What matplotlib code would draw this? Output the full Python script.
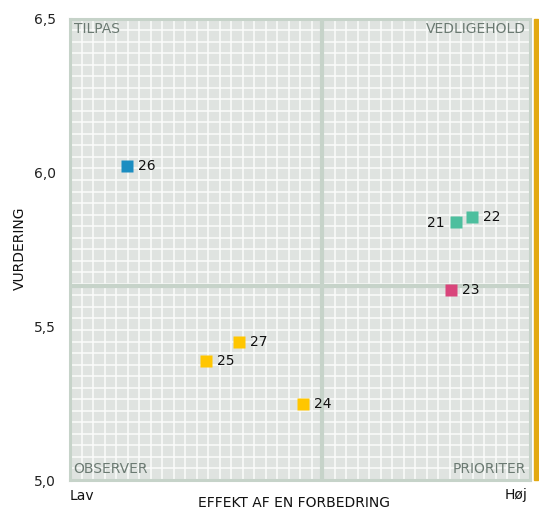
import matplotlib.pyplot as plt
import numpy as np
from matplotlib.patches import Rectangle

# data
labels = ['21', '22', '23', '24', '25', '26', '27']
effekt = [0.839, 0.873, 0.828, 0.506, 0.295, 0.124, 0.367]
vurdering = [5.839, 5.855, 5.619, 5.248, 5.388, 6.021, 5.448]
colors = ['#4dbf9e', '#4dbf9e', '#d9457b', '#ffc600', '#ffc600', '#1b8dc1', '#ffc600']
x_split = 0.548
y_split = 5.632
y_ticks = [5.0, 5.5, 6.0, 6.5]
y_tick_labels = ['5,0', '5,5', '6,0', '6,5']
quadrants = ['TILPAS', 'VEDLIGEHOLD', 'OBSERVER', 'PRIORITER']

plt.rcParams['font.family'] = ['DejaVu Sans']
fs = 10
grey = '#6b7a72'
line_col = '#c6d3c9'

fig = plt.figure(figsize=(5.39, 5.12), dpi=100)
ax = fig.add_axes([70 / 539, 32 / 512, 460 / 539, 461.5 / 512])
ax.set_xlim(0, 1)
ax.set_ylim(5.0, 6.5)
ax.set_facecolor('#dfe3e0')

# fine white grid, 40 x 40 cells
ax.set_xticks(np.linspace(0, 1, 41), minor=True)
ax.set_yticks(np.linspace(5.0, 6.5, 41), minor=True)
ax.grid(which='minor', color='#fbfcfb', linewidth=1.1)
ax.tick_params(which='both', length=0)
ax.set_xticks([])
ax.set_yticks(y_ticks)
ax.set_yticklabels(y_tick_labels, fontsize=fs, color='#222222')
ax.tick_params(axis='y', pad=10)
ax.set_axisbelow(True)

for s in ax.spines.values():
    s.set_color(line_col)
    s.set_linewidth(2.2)

# quadrant dividers
ax.axvline(x_split, color=line_col, linewidth=3, zorder=1.5)
ax.axhline(y_split, color=line_col, linewidth=3, zorder=1.5)

# points
for lab, x, y, c in zip(labels, effekt, vurdering, colors):
    ax.plot(x, y, marker='s', ms=8.6, color=c, mec='none', linestyle='none', zorder=3)
    if lab == '21':
        ax.annotate(lab, (x, y), xytext=(-8, -1), textcoords='offset points',
                    ha='right', va='center', fontsize=fs, color='#111111')
    else:
        ax.annotate(lab, (x, y), xytext=(8, 0), textcoords='offset points',
                    ha='left', va='center', fontsize=fs, color='#111111')

# quadrant names
ax.text(0.008, 0.992, quadrants[0], transform=ax.transAxes, ha='left', va='top',
        fontsize=fs, color=grey)
ax.text(0.992, 0.992, quadrants[1], transform=ax.transAxes, ha='right', va='top',
        fontsize=fs, color=grey)
ax.text(0.008, 0.008, quadrants[2], transform=ax.transAxes, ha='left', va='bottom',
        fontsize=fs, color=grey)
ax.text(0.992, 0.008, quadrants[3], transform=ax.transAxes, ha='right', va='bottom',
        fontsize=fs, color=grey)

# axis titles
fig.text(20 / 539, 1 - 248 / 512, 'VURDERING', rotation=90, ha='center', va='center',
         fontsize=fs, color='#111111')
fig.text(294 / 539, 1 - 503 / 512, 'EFFEKT AF EN FORBEDRING', ha='center', va='center',
         fontsize=fs, color='#111111')
fig.text(70 / 539, 1 - 496 / 512, 'Lav', ha='left', va='center', fontsize=fs, color='#111111')
fig.text(527 / 539, 1 - 495 / 512, 'Høj', ha='right', va='center', fontsize=fs, color='#111111')

# orange bar on the right
fig.patches.append(Rectangle((534 / 539, 32 / 512), 4 / 539, 461.5 / 512,
                             transform=fig.transFigure, color='#e3a90f'))

fig.savefig('out.png', dpi=100)
